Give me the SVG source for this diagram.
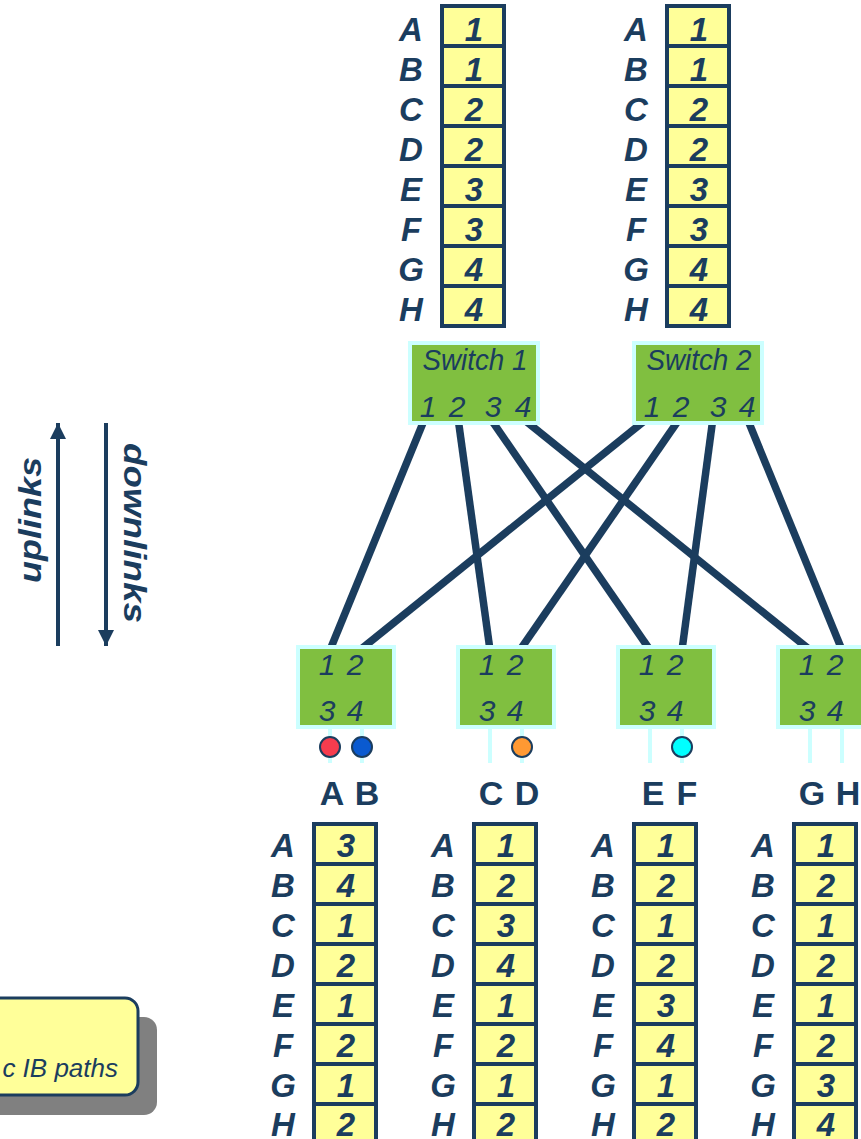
<svg xmlns="http://www.w3.org/2000/svg" width="861" height="1139" viewBox="0 0 861 1139">
  <defs>
    <style>
      .cell { fill: #ffff99; stroke: #1b3d5e; stroke-width: 4; }
      .key { font-family: "Liberation Sans", Arial, sans-serif; font-weight: bold; font-style: italic; font-size: 33px; fill: #1b3d5e; text-anchor: middle; }
      .sw { fill: #80bf40; stroke: #ccffff; stroke-width: 4; }
      .swt { font-family: "Liberation Sans Narrow", "Liberation Sans", Arial, sans-serif; font-style: italic; font-size: 30px; fill: #1b3d5e; text-anchor: middle; }
      .link { stroke: #1b3d5e; stroke-width: 7.5; fill: none; }
      .stub { stroke: #ccffff; stroke-width: 4; }
      .dot { stroke: #1b3d5e; stroke-width: 2; }
      .host { font-family: "Liberation Sans", Arial, sans-serif; font-weight: bold; font-size: 34px; fill: #1b3d5e; text-anchor: middle; }
      .dir { font-family: "Liberation Sans", Arial, sans-serif; font-weight: bold; font-style: italic; font-size: 32px; fill: #1b3d5e; text-anchor: middle; }
      .axis { stroke: #1b3d5e; stroke-width: 4; }
    </style>
    <marker id="head" viewBox="0 0 10 10" refX="10" refY="5" markerWidth="4" markerHeight="4" orient="auto" markerUnits="strokeWidth">
      <path d="M0,0 L10,5 L0,10 z" fill="#1b3d5e"/>
    </marker>
  </defs>

  <!-- direction legend -->
  <g id="legend-uplinks">
    <line class="axis" x1="58" y1="646" x2="58" y2="423" marker-end="url(#head)"/>
    <text class="dir" transform="translate(41,520) rotate(-90)" textLength="126" lengthAdjust="spacingAndGlyphs">uplinks</text>
  </g>
  <g id="legend-downlinks">
    <line class="axis" x1="106" y1="423" x2="106" y2="646" marker-end="url(#head)"/>
    <text class="dir" transform="translate(124,533) rotate(90)" textLength="180" lengthAdjust="spacingAndGlyphs">downlinks</text>
  </g>

  <!-- callout -->
  <g id="callout">
    <rect x="-20" y="1017" width="177" height="98" rx="13" fill="#808080"/>
    <rect x="-40" y="998" width="178" height="97" rx="13" fill="#ffff99" stroke="#1b3d5e" stroke-width="3"/>
    <text x="118" y="1077" font-family="Liberation Sans, Arial, sans-serif" font-style="italic" font-size="26" fill="#1b3d5e" text-anchor="end">c IB paths</text>
  </g>

  <!-- links between spine and leaf switches -->
  <g id="connectors">
    <line class="link" x1="425" y1="418" x2="330" y2="650"/>
    <line class="link" x1="458" y1="418" x2="490" y2="650"/>
    <line class="link" x1="490" y1="418" x2="650" y2="650"/>
    <line class="link" x1="522" y1="418" x2="810" y2="650"/>
    <line class="link" x1="648" y1="418" x2="360" y2="650"/>
    <line class="link" x1="680" y1="418" x2="520" y2="650"/>
    <line class="link" x1="713" y1="418" x2="682" y2="650"/>
    <line class="link" x1="747" y1="418" x2="842" y2="650"/>
  </g>

  <!-- spine forwarding tables -->
  <g id="table-switch1">
    <rect class="cell" x="442" y="6" width="62" height="40"/>
    <rect class="cell" x="442" y="46" width="62" height="40"/>
    <rect class="cell" x="442" y="86" width="62" height="40"/>
    <rect class="cell" x="442" y="126" width="62" height="40"/>
    <rect class="cell" x="442" y="166" width="62" height="40"/>
    <rect class="cell" x="442" y="206" width="62" height="40"/>
    <rect class="cell" x="442" y="246" width="62" height="40"/>
    <rect class="cell" x="442" y="286" width="62" height="40"/>
    <text class="key" x="411" y="41">A</text><text class="key" x="474" y="41">1</text>
    <text class="key" x="411" y="81">B</text><text class="key" x="474" y="81">1</text>
    <text class="key" x="411" y="121">C</text><text class="key" x="474" y="121">2</text>
    <text class="key" x="411" y="161">D</text><text class="key" x="474" y="161">2</text>
    <text class="key" x="411" y="201">E</text><text class="key" x="474" y="201">3</text>
    <text class="key" x="411" y="241">F</text><text class="key" x="474" y="241">3</text>
    <text class="key" x="411" y="281">G</text><text class="key" x="474" y="281">4</text>
    <text class="key" x="411" y="321">H</text><text class="key" x="474" y="321">4</text>
  </g>
  <g id="table-switch2">
    <rect class="cell" x="667" y="6" width="62" height="40"/>
    <rect class="cell" x="667" y="46" width="62" height="40"/>
    <rect class="cell" x="667" y="86" width="62" height="40"/>
    <rect class="cell" x="667" y="126" width="62" height="40"/>
    <rect class="cell" x="667" y="166" width="62" height="40"/>
    <rect class="cell" x="667" y="206" width="62" height="40"/>
    <rect class="cell" x="667" y="246" width="62" height="40"/>
    <rect class="cell" x="667" y="286" width="62" height="40"/>
    <text class="key" x="636" y="41">A</text><text class="key" x="699" y="41">1</text>
    <text class="key" x="636" y="81">B</text><text class="key" x="699" y="81">1</text>
    <text class="key" x="636" y="121">C</text><text class="key" x="699" y="121">2</text>
    <text class="key" x="636" y="161">D</text><text class="key" x="699" y="161">2</text>
    <text class="key" x="636" y="201">E</text><text class="key" x="699" y="201">3</text>
    <text class="key" x="636" y="241">F</text><text class="key" x="699" y="241">3</text>
    <text class="key" x="636" y="281">G</text><text class="key" x="699" y="281">4</text>
    <text class="key" x="636" y="321">H</text><text class="key" x="699" y="321">4</text>
  </g>

  <!-- spine switches -->
  <g id="switch1">
    <rect class="sw" x="410" y="343" width="128" height="80"/>
    <text class="swt" x="475" y="370" textLength="105" lengthAdjust="spacingAndGlyphs">Switch 1</text>
    <text class="swt" x="428" y="417">1</text>
    <text class="swt" x="457" y="417">2</text>
    <text class="swt" x="493" y="417">3</text>
    <text class="swt" x="523" y="417">4</text>
  </g>
  <g id="switch2">
    <rect class="sw" x="634" y="343" width="128" height="80"/>
    <text class="swt" x="699" y="370" textLength="105" lengthAdjust="spacingAndGlyphs">Switch 2</text>
    <text class="swt" x="652" y="417">1</text>
    <text class="swt" x="681" y="417">2</text>
    <text class="swt" x="718" y="417">3</text>
    <text class="swt" x="747" y="417">4</text>
  </g>

  <!-- leaf switches with host ports -->
  <g id="leaf1">
    <line class="stub" x1="330" y1="729" x2="330" y2="763"/>
    <line class="stub" x1="362" y1="729" x2="362" y2="763"/>
    <rect class="sw" x="298" y="647" width="96" height="80"/>
    <text class="swt" x="327" y="675">1</text><text class="swt" x="355" y="675">2</text>
    <text class="swt" x="327" y="721">3</text><text class="swt" x="355" y="721">4</text>
    <circle class="dot" cx="330" cy="747" r="10" fill="#f63c4e"/>
    <circle class="dot" cx="362" cy="747" r="10" fill="#0a5ad0"/>
    <text class="host" x="332" y="805">A</text><text class="host" x="367" y="805">B</text>
  </g>
  <g id="leaf2">
    <line class="stub" x1="490" y1="729" x2="490" y2="763"/>
    <line class="stub" x1="522" y1="729" x2="522" y2="763"/>
    <rect class="sw" x="458" y="647" width="96" height="80"/>
    <text class="swt" x="487" y="675">1</text><text class="swt" x="515" y="675">2</text>
    <text class="swt" x="487" y="721">3</text><text class="swt" x="515" y="721">4</text>
    <circle class="dot" cx="522" cy="747" r="10" fill="#ff9933"/>
    <text class="host" x="491" y="805">C</text><text class="host" x="527" y="805">D</text>
  </g>
  <g id="leaf3">
    <line class="stub" x1="650" y1="729" x2="650" y2="763"/>
    <line class="stub" x1="682" y1="729" x2="682" y2="763"/>
    <rect class="sw" x="618" y="647" width="96" height="80"/>
    <text class="swt" x="647" y="675">1</text><text class="swt" x="675" y="675">2</text>
    <text class="swt" x="647" y="721">3</text><text class="swt" x="675" y="721">4</text>
    <circle class="dot" cx="682" cy="747" r="10" fill="#00ffff"/>
    <text class="host" x="653" y="805">E</text><text class="host" x="687" y="805">F</text>
  </g>
  <g id="leaf4">
    <line class="stub" x1="810" y1="729" x2="810" y2="763"/>
    <line class="stub" x1="842" y1="729" x2="842" y2="763"/>
    <rect class="sw" x="778" y="647" width="96" height="80"/>
    <text class="swt" x="807" y="675">1</text><text class="swt" x="835" y="675">2</text>
    <text class="swt" x="807" y="721">3</text><text class="swt" x="835" y="721">4</text>
    <text class="host" x="812" y="805">G</text><text class="host" x="848" y="805">H</text>
  </g>

  <!-- leaf forwarding tables -->
  <g id="table-leaf1">
    <rect class="cell" x="314" y="824" width="62" height="40"/>
    <rect class="cell" x="314" y="864" width="62" height="40"/>
    <rect class="cell" x="314" y="904" width="62" height="40"/>
    <rect class="cell" x="314" y="944" width="62" height="40"/>
    <rect class="cell" x="314" y="984" width="62" height="40"/>
    <rect class="cell" x="314" y="1024" width="62" height="40"/>
    <rect class="cell" x="314" y="1064" width="62" height="40"/>
    <rect class="cell" x="314" y="1104" width="62" height="40"/>
    <text class="key" x="283" y="857">A</text><text class="key" x="346" y="857">3</text>
    <text class="key" x="283" y="897">B</text><text class="key" x="346" y="897">4</text>
    <text class="key" x="283" y="937">C</text><text class="key" x="346" y="937">1</text>
    <text class="key" x="283" y="977">D</text><text class="key" x="346" y="977">2</text>
    <text class="key" x="283" y="1017">E</text><text class="key" x="346" y="1017">1</text>
    <text class="key" x="283" y="1057">F</text><text class="key" x="346" y="1057">2</text>
    <text class="key" x="283" y="1097">G</text><text class="key" x="346" y="1097">1</text>
    <text class="key" x="283" y="1136">H</text><text class="key" x="346" y="1136">2</text>
  </g>
  <g id="table-leaf2">
    <rect class="cell" x="474" y="824" width="62" height="40"/>
    <rect class="cell" x="474" y="864" width="62" height="40"/>
    <rect class="cell" x="474" y="904" width="62" height="40"/>
    <rect class="cell" x="474" y="944" width="62" height="40"/>
    <rect class="cell" x="474" y="984" width="62" height="40"/>
    <rect class="cell" x="474" y="1024" width="62" height="40"/>
    <rect class="cell" x="474" y="1064" width="62" height="40"/>
    <rect class="cell" x="474" y="1104" width="62" height="40"/>
    <text class="key" x="443" y="857">A</text><text class="key" x="506" y="857">1</text>
    <text class="key" x="443" y="897">B</text><text class="key" x="506" y="897">2</text>
    <text class="key" x="443" y="937">C</text><text class="key" x="506" y="937">3</text>
    <text class="key" x="443" y="977">D</text><text class="key" x="506" y="977">4</text>
    <text class="key" x="443" y="1017">E</text><text class="key" x="506" y="1017">1</text>
    <text class="key" x="443" y="1057">F</text><text class="key" x="506" y="1057">2</text>
    <text class="key" x="443" y="1097">G</text><text class="key" x="506" y="1097">1</text>
    <text class="key" x="443" y="1136">H</text><text class="key" x="506" y="1136">2</text>
  </g>
  <g id="table-leaf3">
    <rect class="cell" x="634" y="824" width="62" height="40"/>
    <rect class="cell" x="634" y="864" width="62" height="40"/>
    <rect class="cell" x="634" y="904" width="62" height="40"/>
    <rect class="cell" x="634" y="944" width="62" height="40"/>
    <rect class="cell" x="634" y="984" width="62" height="40"/>
    <rect class="cell" x="634" y="1024" width="62" height="40"/>
    <rect class="cell" x="634" y="1064" width="62" height="40"/>
    <rect class="cell" x="634" y="1104" width="62" height="40"/>
    <text class="key" x="603" y="857">A</text><text class="key" x="666" y="857">1</text>
    <text class="key" x="603" y="897">B</text><text class="key" x="666" y="897">2</text>
    <text class="key" x="603" y="937">C</text><text class="key" x="666" y="937">1</text>
    <text class="key" x="603" y="977">D</text><text class="key" x="666" y="977">2</text>
    <text class="key" x="603" y="1017">E</text><text class="key" x="666" y="1017">3</text>
    <text class="key" x="603" y="1057">F</text><text class="key" x="666" y="1057">4</text>
    <text class="key" x="603" y="1097">G</text><text class="key" x="666" y="1097">1</text>
    <text class="key" x="603" y="1136">H</text><text class="key" x="666" y="1136">2</text>
  </g>
  <g id="table-leaf4">
    <rect class="cell" x="794" y="824" width="62" height="40"/>
    <rect class="cell" x="794" y="864" width="62" height="40"/>
    <rect class="cell" x="794" y="904" width="62" height="40"/>
    <rect class="cell" x="794" y="944" width="62" height="40"/>
    <rect class="cell" x="794" y="984" width="62" height="40"/>
    <rect class="cell" x="794" y="1024" width="62" height="40"/>
    <rect class="cell" x="794" y="1064" width="62" height="40"/>
    <rect class="cell" x="794" y="1104" width="62" height="40"/>
    <text class="key" x="763" y="857">A</text><text class="key" x="826" y="857">1</text>
    <text class="key" x="763" y="897">B</text><text class="key" x="826" y="897">2</text>
    <text class="key" x="763" y="937">C</text><text class="key" x="826" y="937">1</text>
    <text class="key" x="763" y="977">D</text><text class="key" x="826" y="977">2</text>
    <text class="key" x="763" y="1017">E</text><text class="key" x="826" y="1017">1</text>
    <text class="key" x="763" y="1057">F</text><text class="key" x="826" y="1057">2</text>
    <text class="key" x="763" y="1097">G</text><text class="key" x="826" y="1097">3</text>
    <text class="key" x="763" y="1136">H</text><text class="key" x="826" y="1136">4</text>
  </g>
</svg>
